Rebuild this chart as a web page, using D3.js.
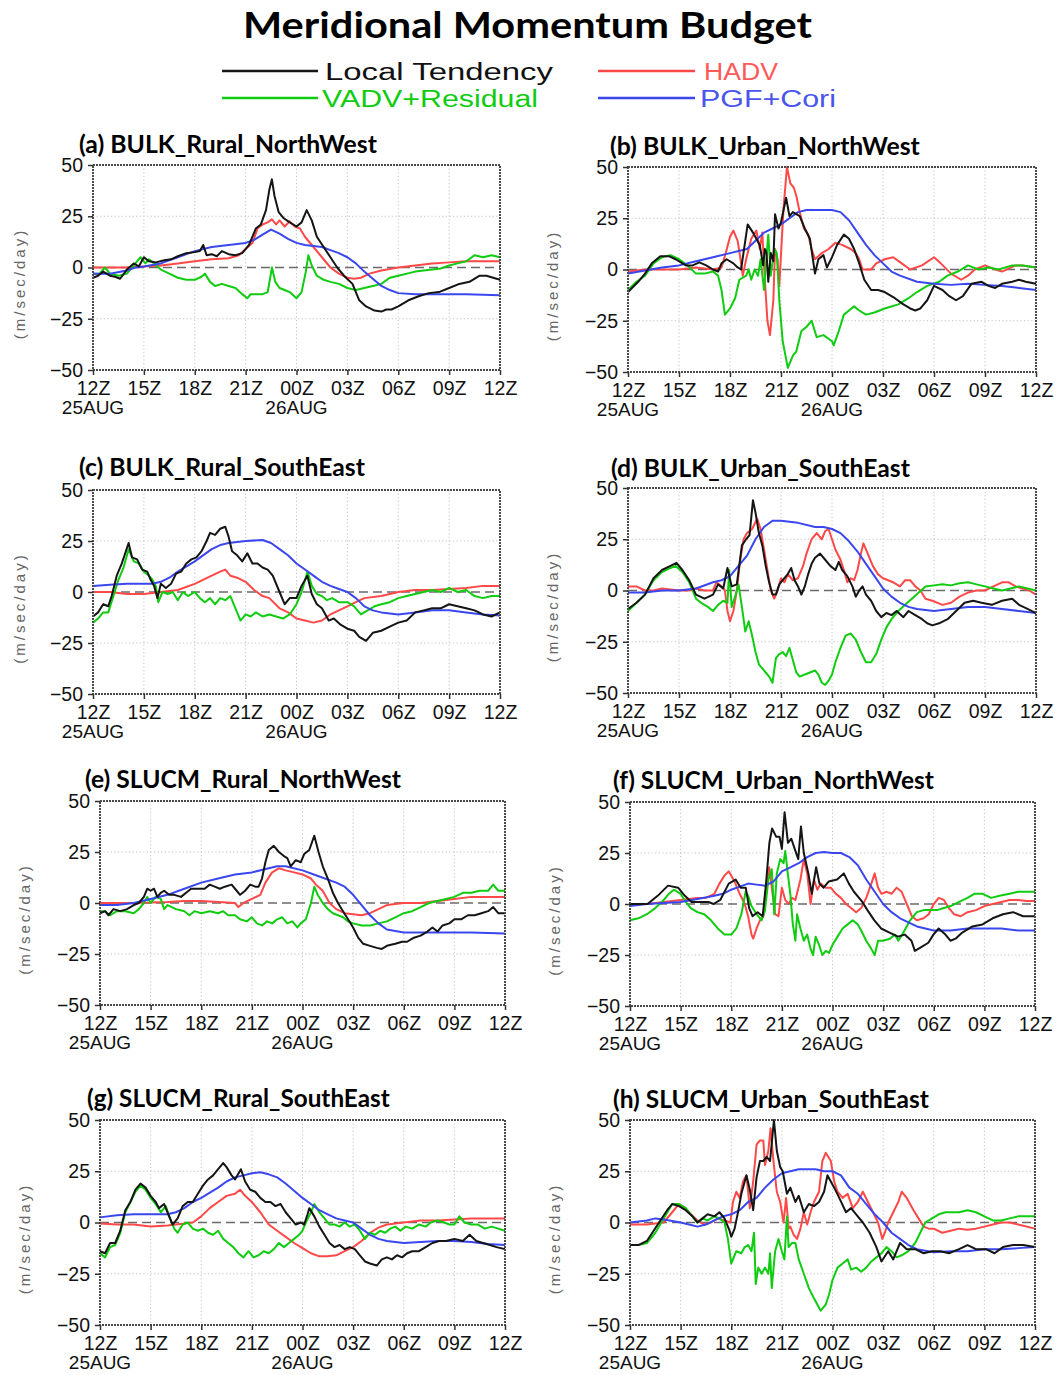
<!DOCTYPE html>
<html>
<head>
<meta charset="utf-8">
<script src="https://cdn.jsdelivr.net/npm/d3@7"></script>
<style>
  body { margin: 0; background: #fff; }
  svg { display: block; }
</style>
</head>
<body>
<svg id="chart" width="1057" height="1375"></svg>
<script>
// ---- axis labels -------------------------------------------------------
const timeTicks = [0, 3, 6, 9, 12, 15, 18, 21, 24];            // hours after 12Z 25AUG
const timeLabels = ["12Z", "15Z", "18Z", "21Z", "00Z", "03Z", "06Z", "09Z", "12Z"];
const dateTicks = [0, 12];
const dateLabels = ["25AUG", "26AUG"];
const yTicks = [50, 25, 0, -25, -50];
const yGrid = [25, -25];
const seriesNames = ["Local Tendency", "HADV", "VADV+Residual", "PGF+Cori"];
const panelTitles = [
  "(a) BULK_Rural_NorthWest", "(b) BULK_Urban_NorthWest",
  "(c) BULK_Rural_SouthEast", "(d) BULK_Urban_SouthEast",
  "(e) SLUCM_Rural_NorthWest", "(f) SLUCM_Urban_NorthWest",
  "(g) SLUCM_Rural_SouthEast", "(h) SLUCM_Urban_SouthEast"
];

// ---- budget terms, [hour, m/sec/day] ----------------------------------
// (a) BULK Rural NorthWest
const localA = [[0,-5],[0.3,-4],[0.6,-2],[1.0,-4],[1.3,-4.5],[1.6,-5.5],[2.0,-1],[2.4,2],[2.7,0.5],[3.0,5],[3.3,3],[3.7,2.5],[4.2,3.5],[4.6,4],[5.0,5.5],[5.5,7],[6.0,7.5],[6.3,8],[6.5,11],[6.7,6],[7.0,6.5],[7.3,5.5],[7.6,8],[8.0,6.5],[8.4,6],[8.8,7],[9.2,11],[9.6,19],[9.9,21],[10.2,28],[10.4,38],[10.55,43],[10.7,35],[10.95,27],[11.25,24],[11.6,22],[12.0,20],[12.3,22],[12.6,28],[12.9,23],[13.2,15],[13.6,10],[14.0,5],[14.4,0],[14.8,-4],[15.3,-8],[15.7,-16],[16.1,-19],[16.6,-21],[17.0,-21.5],[17.3,-20.5],[17.6,-20.5],[18.0,-19],[18.6,-16],[19.2,-14],[19.8,-12.5],[20.4,-12],[21.0,-10],[21.6,-8],[22.2,-7],[22.8,-4],[23.2,-4],[23.6,-5],[24,-6]];
const hadvA = [[0,0],[1,0],[2,0],[3,0.5],[4,1],[5,2],[6,3],[7,4],[8,4.5],[8.6,6],[9.0,9],[9.4,12],[9.7,19],[10.0,21],[10.3,22],[10.55,23.5],[10.8,21],[11.0,23],[11.3,20],[11.6,22.5],[11.9,20],[12.2,19],[12.5,15],[13.0,10],[13.5,5],[14.0,0],[14.5,-3],[15.0,-5],[15.4,-5.5],[15.8,-5],[16.3,-3],[17.0,-1.5],[18.0,0],[19.0,1],[20.0,2],[21.0,2.5],[22.0,3],[23.0,3],[24,3]];
const vadvA = [[0,-3],[0.4,-3],[0.7,0],[1.0,-3],[1.5,-4],[2.0,-3],[2.5,2],[2.8,5],[3.1,2],[3.3,4],[3.6,2],[4.0,-1],[4.5,-3],[5.0,-5],[5.5,-6],[6.0,-6],[6.4,-4.5],[6.6,-3],[6.9,-7],[7.2,-9],[7.6,-8],[8.0,-9],[8.4,-10],[8.8,-13],[9.1,-15],[9.3,-13],[9.6,-13],[10.0,-13],[10.3,-12],[10.45,-5],[10.55,0],[10.75,-7],[11.0,-10],[11.3,-11],[11.6,-12],[12.0,-15],[12.3,-12],[12.55,-2],[12.7,6],[12.9,1],[13.2,-4],[13.6,-6],[14.0,-7],[14.5,-8],[15.0,-10],[15.5,-11],[16.0,-10],[16.5,-9],[17.0,-8],[17.5,-5],[18.0,-4],[19.0,-2],[20.0,-1],[20.5,-0.5],[21.0,1],[21.5,2],[22.0,3],[22.5,6],[23.0,5],[23.5,6],[24,5]];
const pgfA = [[0,-3],[1,-3],[2,-1.5],[2.5,0],[3,0.5],[4,2],[5,5],[6,8],[7,10],[8,11],[9,12],[9.5,13.5],[10,16],[10.5,18.5],[11,16.5],[11.5,14],[12,12],[12.5,11],[13,10.5],[13.5,10],[14,8.5],[14.5,7],[15,5],[15.5,2],[16,-2],[16.5,-5.5],[17,-9],[17.5,-11],[18,-12.5],[19,-13],[20,-13],[22,-13],[24,-13.5]];

// (b) BULK Urban NorthWest
const localB = [[0,-11],[0.6,-6],[1.0,-2],[1.4,3],[1.9,6.5],[2.4,6.5],[2.8,5],[3.4,2],[3.8,2],[4.2,3.5],[4.6,2],[5.0,0],[5.3,-1],[5.5,3],[5.8,5],[6.2,3],[6.45,1],[6.65,0],[7.04,22],[7.35,18],[7.75,12],[7.95,2],[8.05,10],[8.15,8],[8.25,-6],[8.4,8],[8.55,4],[8.65,27],[8.85,20],[9.0,23],[9.3,35],[9.5,26],[9.7,28],[10.1,26],[10.4,20],[10.7,15],[11.0,-2],[11.2,5],[11.5,7],[11.7,1],[12.0,6],[12.3,12],[12.7,17],[13.0,15],[13.3,10],[13.6,3],[13.9,-5],[14.3,-10],[14.7,-10],[15.1,-11],[15.7,-14],[16.2,-17],[16.6,-19],[16.9,-20],[17.2,-19],[17.6,-15],[18.0,-8],[18.5,-10],[18.9,-13],[19.3,-15],[19.7,-13],[20.2,-7],[20.8,-6],[21.2,-8],[21.6,-9],[22.0,-7],[22.6,-6],[23.0,-5],[23.4,-6],[24,-7]];
const hadvB = [[0,-1],[1,0],[2,0],[3,0],[4,1],[5,0],[5.5,1],[5.75,8],[6.0,16],[6.2,19],[6.45,14],[6.6,6],[6.75,-3],[6.95,5],[7.25,15],[7.55,19],[7.75,10],[7.9,18],[8.05,-5],[8.2,-25],[8.35,-32],[8.55,-15],[8.65,10],[8.8,5],[8.9,-8],[9.15,30],[9.35,50],[9.55,42],[9.75,40],[9.9,36],[10.1,28],[10.35,20],[10.6,17],[10.8,10],[11.0,5],[11.4,8],[11.8,10],[12.2,13],[12.6,12],[13.1,10],[13.4,8],[13.6,5],[13.8,0],[14.3,0],[14.6,3],[15.1,5],[15.6,6],[16.1,3],[16.6,0],[17.3,2],[18.0,6],[18.4,3],[19.0,-2],[19.6,-5],[20.0,-3],[20.4,0],[21.0,2],[21.6,0],[22.0,-1],[22.8,2],[23.2,2],[24,1]];
const vadvB = [[0,-10],[0.5,-6],[1.0,-3],[1.5,3],[2.0,6],[2.5,7],[3.0,5],[3.5,2],[4.0,-2],[4.5,-2],[5.0,-1],[5.3,-3],[5.5,-10],[5.7,-22],[6.0,-19],[6.3,-14],[6.55,-5],[6.95,-3],[7.1,0],[7.25,-5],[7.45,0],[7.65,-3],[7.8,5],[8.0,-10],[8.25,17],[8.4,-3],[8.6,10],[8.75,8],[8.9,-15],[9.1,-35],[9.4,-48],[9.7,-42],[9.9,-40],[10.2,-30],[10.5,-28],[10.8,-25],[11.1,-33],[11.5,-32],[12.0,-35],[12.1,-37],[12.4,-30],[12.7,-22],[13.0,-20],[13.3,-18],[13.6,-20],[14.0,-22],[14.5,-21],[15.1,-19],[15.9,-17],[16.5,-14],[17.0,-11],[17.6,-8],[18.3,-6],[18.8,-3],[19.4,-1],[20.0,2],[20.6,0],[21.2,1],[21.8,0],[22.6,2],[23.2,2],[24,1]];
const pgfB = [[0,-2],[1,-0.5],[2,1],[3,2],[4,4],[5,6],[6,8],[7,10],[7.5,14],[8,18],[8.5,20],[9,22],[9.5,25],[10,28],[10.5,29],[11,29],[12,29],[12.5,28],[13,24],[13.5,18],[14,12],[14.5,7],[15,3],[15.5,-1],[16,-3],[17,-6],[18,-7],[19,-7.5],[20,-7],[21,-7.5],[22,-8],[23,-9],[24,-10]];

// (c) BULK Rural SouthEast
const localC = [[0,-12],[0.3,-10],[0.6,-6],[0.9,-7],[1.1,-2],[1.4,8],[1.7,14],[2.1,24],[2.3,17],[2.6,16],[2.9,11],[3.2,10],[3.4,6],[3.6,3],[3.8,-3],[4.0,4],[4.3,2],[4.6,4],[4.9,9],[5.2,10],[5.5,14],[5.8,16],[6.1,17],[6.4,20],[6.7,25],[6.9,29],[7.2,28],[7.5,31],[7.8,32],[8.0,27],[8.2,20],[8.5,18],[8.8,15],[9.1,19],[9.4,14],[9.7,14],[10.0,12],[10.3,11],[10.6,8],[11.0,0],[11.3,-6],[11.6,-3],[12.0,-3],[12.3,3],[12.64,8],[12.9,-1],[13.2,-6],[13.5,-8],[13.9,-14],[14.2,-13],[14.6,-16],[15.0,-18],[15.4,-19],[15.7,-22],[16.1,-24],[16.5,-20],[17.0,-19],[17.5,-17],[18.0,-15],[18.5,-14],[19.0,-10],[19.5,-9],[20.0,-8],[20.5,-8],[21.0,-6],[21.5,-7],[22.0,-8],[22.5,-9],[23.0,-11],[23.5,-12],[24,-10]];
const hadvC = [[0,0],[1,0],[2,-1],[3,-1],[4,0],[5,1],[6,4],[7,8],[7.5,10],[7.8,11],[8.1,8],[8.5,7],[9,5],[9.5,1],[10,-2],[10.4,-3],[11,-8],[11.5,-10],[12,-13],[12.5,-14],[13,-15],[13.5,-14],[14,-11],[14.5,-9],[15,-7],[15.5,-5],[16,-3],[17,-2],[18,0],[19,1],[20,1],[21,1.5],[22,2],[23,3],[24,3]];
const vadvC = [[0,-15],[0.3,-13],[0.6,-10],[0.9,-10],[1.2,-2],[1.5,6],[1.8,12],[2.1,21],[2.4,15],[2.7,14],[3.0,10],[3.3,8],[3.5,6],[3.7,3],[3.85,-5],[4.1,0],[4.4,-1],[4.7,0],[5.0,-4],[5.3,0],[5.6,-2],[6.0,0],[6.3,-3],[6.6,-5],[6.9,-3],[7.2,-6],[7.5,-3],[7.8,-4],[8.1,-2],[8.4,-8],[8.7,-14],[9.0,-11],[9.3,-12],[9.6,-10],[10.0,-12],[10.4,-11],[10.8,-12],[11.2,-13],[11.6,-11],[12.0,-6],[12.3,0],[12.65,10],[12.9,3],[13.2,-1],[13.5,-2],[13.8,-4],[14.1,-3],[14.5,-5],[15.0,-5],[15.4,-7],[15.8,-11],[16.2,-9],[16.6,-7],[17.0,-6],[17.5,-5],[18.0,-3],[18.5,-2],[19.0,-1],[19.5,0],[20.0,1],[20.5,0],[21.0,2],[21.5,0],[22.0,1],[22.5,-2],[23.0,-3],[23.5,-2],[24,-2]];
const pgfC = [[0,3],[1,3.5],[2,4],[3,4],[3.5,4],[4,5],[4.5,7],[5,10],[6,15],[7,21],[7.5,23],[8,24],[9,25],[10,25.5],[10.5,24],[11,21],[11.5,18],[12,14],[12.5,11],[13,8],[13.5,5],[14,3],[14.5,1.5],[15,0],[15.5,-3],[16,-7],[16.5,-9],[17,-10],[18,-11],[19,-10],[20,-9],[21,-9],[22,-10],[23,-11],[24,-11.5]];

// (d) BULK Urban SouthEast
const localD = [[0,-9],[0.5,-6],[1,-2],[1.5,6],[2,10],[2.5,12],[2.85,13.5],[3.2,10],[3.6,5],[4,-2],[4.5,-4],[5,-2],[5.3,3],[5.6,1],[5.85,11],[6.1,2],[6.4,3],[6.7,22],[6.95,25],[7.15,27],[7.35,44],[7.5,38],[7.7,28],[7.9,22],[8.1,12],[8.3,4],[8.5,-2],[8.7,-2],[8.9,3],[9.2,6],[9.4,8],[9.6,11],[9.8,5],[10.0,2],[10.2,-2],[10.4,2],[10.6,8],[10.8,13],[11.0,16],[11.3,18],[11.6,15],[11.9,12],[12.2,10],[12.4,14],[12.6,10],[12.9,7],[13.2,2],[13.4,-3],[13.6,0],[13.8,2],[14.0,-2],[14.3,-5],[14.6,-10],[14.9,-13],[15.2,-11],[15.5,-12],[15.8,-10],[16.2,-13],[16.5,-10],[16.9,-12],[17.3,-14],[17.6,-16],[17.9,-17],[18.3,-16],[18.8,-14],[19.3,-10],[19.8,-6],[20.3,-5],[20.8,-6],[21.4,-7],[22.0,-5],[22.6,-4],[23.0,-7],[23.5,-9],[24,-11]];
const hadvD = [[0,2],[0.5,2],[1,0],[1.5,0],[2,1],[3,0],[3.5,0],[4,1],[4.5,0],[5,0],[5.2,4],[5.5,2],[5.7,0],[5.85,-10],[6.0,-15],[6.2,-10],[6.4,0],[6.6,15],[6.8,25],[7.0,28],[7.3,30],[7.6,35],[7.8,30],[8.0,20],[8.2,10],[8.4,0],[8.6,-4],[8.8,0],[9.0,6],[9.2,4],[9.4,8],[9.7,5],[10.0,6],[10.3,12],[10.5,18],[10.8,25],[11.1,28],[11.4,25],[11.6,29],[11.8,30],[12.0,25],[12.2,20],[12.5,15],[12.7,10],[12.9,4],[13.1,6],[13.3,5],[13.5,10],[13.7,18],[13.85,23],[14.1,18],[14.4,12],[14.7,8],[15.0,6],[15.3,5],[15.6,4],[16.0,2],[16.3,5],[16.6,5],[16.9,2],[17.2,0],[17.5,-4],[17.9,-5],[18.5,-7],[19,-6],[19.5,-3],[20,-1],[20.5,0],[21,0],[21.5,2],[22,4],[22.4,4],[22.8,2],[23.2,1],[23.6,0],[24,-2]];
const vadvD = [[0,-10],[0.5,-6],[1,-2],[1.5,5],[2,9],[2.5,11],[2.8,12],[3.2,9],[3.6,4],[4.0,-4],[4.3,-6],[4.7,-8],[5.0,-10],[5.3,-7],[5.6,-5],[5.85,-6],[5.95,10],[6.1,-8],[6.3,-3],[6.5,3],[6.7,-8],[6.9,-20],[7.1,-15],[7.3,-22],[7.5,-30],[7.7,-36],[7.9,-38],[8.1,-40],[8.3,-42],[8.5,-45],[8.7,-33],[8.9,-31],[9.1,-30],[9.3,-32],[9.5,-28],[9.7,-34],[9.9,-40],[10.1,-42],[10.4,-41],[10.7,-40],[11.0,-39],[11.2,-41],[11.4,-45],[11.6,-46],[11.8,-44],[12.0,-41],[12.2,-35],[12.5,-28],[12.8,-22],[13.1,-21],[13.4,-24],[13.7,-30],[14.0,-35],[14.3,-35],[14.6,-31],[14.9,-24],[15.2,-18],[15.5,-14],[15.9,-10],[16.3,-7],[16.7,-4],[17.1,-1],[17.5,2],[18,2.5],[18.5,3],[19,2.5],[19.5,3.5],[20,4],[20.5,3],[21,2],[21.5,1],[22,0],[22.5,1],[23,2],[23.5,1],[24,0]];
const pgfD = [[0,-1],[1,-1],[2,0],[3,0],[4,1],[5,4],[5.5,5],[6,7],[6.5,12],[7,17],[7.5,25],[8,31],[8.5,34],[9,34],[10,33],[11,31],[11.5,31],[12,30],[12.5,28],[13,24],[13.5,19],[14,13],[14.5,7],[15,1],[15.5,-3],[16,-6],[16.5,-8],[17,-9],[18,-10],[19,-9],[20,-8],[21,-8],[22,-9],[23,-10],[24,-11]];

// (e) SLUCM Rural NorthWest
const localE = [[0,-5],[0.3,-4],[0.5,-6],[0.8,-3],[1.2,-4],[1.6,-3],[2.0,-1],[2.3,0],[2.6,3],[2.8,7],[3.0,6],[3.2,7],[3.4,3],[3.6,5],[3.8,6],[4.1,4],[4.4,4],[4.8,3],[5.1,5],[5.4,7],[5.8,7],[6.2,7],[6.5,9],[6.8,8],[7.1,7],[7.4,8],[7.8,9],[8.1,6],[8.3,4],[8.6,6],[8.9,9],[9.2,8],[9.4,8],[9.6,12],[9.8,20],[10.0,26],[10.3,28],[10.6,25],[10.9,23],[11.1,22],[11.3,18],[11.6,21],[11.9,20],[12.1,24],[12.4,26],[12.7,33],[12.95,25],[13.2,18],[13.5,12],[13.8,5],[14.1,0],[14.4,-4],[14.7,-8],[15.0,-12],[15.3,-17],[15.6,-20],[16.0,-21],[16.4,-22],[16.7,-22.5],[17.0,-21],[17.5,-20],[17.9,-19],[18.2,-19],[18.6,-17],[19.0,-16],[19.4,-14],[19.7,-12],[20.0,-14],[20.3,-11],[20.7,-10],[21.0,-8],[21.4,-8],[21.8,-6],[22.2,-6],[22.6,-5],[23.0,-4],[23.3,-2],[23.6,-5],[24,-5]];
const hadvE = [[0,0],[2,0],[4,0.5],[5,1],[6,1],[7,0.5],[8,0],[8.2,-2],[8.5,0],[9,2],[9.5,4],[9.8,10],[10.2,15],[10.6,17],[11.0,16],[11.5,15],[12.0,14],[12.5,12],[12.8,9],[13.2,6],[13.6,0],[14,-3],[14.5,-5],[15,-5.5],[15.5,-6],[16,-5],[16.5,-3],[17,-1],[18,0],[19,0],[20,1],[21,2],[22,3],[23,3],[24,3]];
const vadvE = [[0,-4],[0.3,-4],[0.6,-6],[1,-4],[1.5,-4],[2,-5],[2.3,-3],[2.6,0],[2.8,3],[3.0,0],[3.3,3],[3.6,2],[3.8,-3],[4.0,-1],[4.5,-3],[5,-4],[5.3,-6],[5.6,-4],[6,-5],[6.5,-4],[7,-5],[7.3,-4],[7.6,-6],[8,-6],[8.3,-8],[8.7,-9],[9.0,-7],[9.3,-10],[9.6,-11],[9.9,-9],[10.2,-10],[10.5,-8],[10.8,-7],[11.1,-10],[11.4,-9],[11.7,-12],[11.9,-10],[12.2,-8],[12.5,0],[12.7,8],[12.9,4],[13.2,0],[13.5,-3],[13.8,-5],[14.1,-6],[14.4,-7],[14.7,-9],[15.0,-10],[15.5,-11],[16,-11],[16.5,-10],[17,-9],[17.5,-7],[18,-5],[18.5,-4],[19,-2],[19.5,0],[20,1],[20.5,2],[21,3],[21.5,5],[22,5],[22.5,6],[23,6],[23.3,9],[23.6,6],[24,6]];
const pgfE = [[0,-1],[1,-1],[2,0],[3,2],[4,4],[5,7],[6,10],[7,12],[8,14],[9,15],[10,17],[10.5,18],[11,18],[12,16],[13,13],[14,10],[14.5,8],[15,4],[15.5,-1],[16,-6],[16.5,-10],[17,-13],[18,-14.5],[19,-14.5],[20,-14.5],[21,-14.5],[22,-14.5],[24,-15]];

// (f) SLUCM Urban NorthWest
const localF = [[0,0],[1.04,0],[1.64,4],[2.25,9],[2.85,8],[3.25,4],[3.65,1],[4.25,1],[4.65,1],[4.95,0],[5.35,2],[5.85,10],[6.26,12],[6.56,8],[6.86,8],[7.06,-2],[7.26,-6],[7.56,-4],[7.86,-6],[8.06,10],[8.26,30],[8.42,37],[8.66,33],[8.86,33],[9.0,27],[9.16,45],[9.36,30],[9.56,32],[9.76,27],[9.97,22],[10.13,38],[10.3,25],[10.57,15],[10.77,5],[11.03,18],[11.23,10],[11.47,8],[11.77,11],[12.27,12],[12.67,15],[12.97,10],[13.27,6],[13.77,1],[14.07,-3],[14.48,-8],[14.88,-12],[15.38,-14],[15.88,-16],[16.28,-15],[16.68,-18],[16.88,-23],[17.28,-21],[17.68,-19],[17.98,-15],[18.29,-12],[18.69,-15],[18.99,-18],[19.29,-17],[19.69,-14],[20.29,-11],[20.89,-10],[21.49,-7],[22.1,-5],[22.7,-4],[23.3,-6],[24,-6]];
const hadvF = [[0,0],[1,0],[2,1],[3,2],[4,3],[4.5,3],[5,5],[5.3,10],[5.6,14],[5.85,16],[6.2,11],[6.5,5],[6.8,0],[7.0,-6],[7.2,-15],[7.3,-17],[7.5,-12],[7.7,-8],[7.9,-6],[8.1,10],[8.25,18],[8.4,8],[8.6,-5],[8.8,-6],[9.0,8],[9.2,2],[9.4,0],[9.6,3],[9.8,2],[10.1,12],[10.3,22],[10.5,15],[10.7,0],[10.9,12],[11.1,7],[11.3,10],[11.6,8],[11.9,8],[12.2,5],[12.5,3],[12.8,0],[13.1,-2],[13.4,-4],[13.7,-2],[14.0,3],[14.3,10],[14.5,15],[14.7,8],[14.9,5],[15.2,6],[15.5,5],[15.8,8],[16.1,6],[16.4,0],[16.7,-6],[17.0,-8],[17.4,-7],[17.7,-5],[18.0,0],[18.3,3],[18.6,2],[18.9,-2],[19.2,-5],[19.6,-6],[20,-4],[20.5,-3],[21,-1],[21.5,0],[22,1],[22.5,2],[23,2],[23.5,1.5],[24,1.5]];
const vadvF = [[0,-8],[0.5,-7],[1,-5],[1.5,-2],[2,2],[2.3,5],[2.6,7],[3.0,5],[3.3,1],[3.6,-2],[4.0,-4],[4.4,-5],[4.8,-8],[5.2,-12],[5.6,-15],[6.0,-15],[6.3,-12],[6.6,-5],[6.85,6],[7.0,4],[7.2,-1],[7.5,-5],[7.8,-8],[8.0,-3],[8.2,12],[8.4,17],[8.55,-5],[8.7,15],[8.9,22],[9.1,20],[9.2,26],[9.35,15],[9.5,5],[9.65,-10],[9.8,-18],[9.9,-5],[10.1,-12],[10.3,-18],[10.5,-15],[10.7,-22],[10.85,-25],[11.0,-16],[11.2,-20],[11.4,-25],[11.6,-23],[11.8,-24],[12.0,-20],[12.3,-16],[12.6,-12],[12.9,-10],[13.2,-8],[13.5,-10],[13.7,-13],[14.0,-18],[14.3,-22],[14.5,-25],[14.7,-18],[15.0,-18],[15.4,-17],[15.7,-15],[15.9,-18],[16.2,-14],[16.6,-8],[17.0,-4],[17.4,-3],[17.8,-3],[18.2,-3],[18.6,-2],[19.0,-1],[19.5,1],[20.0,3],[20.4,5],[20.9,5],[21.4,3],[21.9,4],[22.5,5],[23,6],[23.5,6],[24,6]];
const pgfF = [[0,-1],[1,0],[2,0.5],[3,1],[4,2.5],[5,4],[5.5,5],[6,7],[6.5,8.5],[7,10],[7.5,9.5],[8,9],[8.5,11],[9,16],[9.5,18],[10,20],[10.5,23],[11,25],[11.5,25.5],[12,25],[12.5,25],[13,23],[13.5,19],[14,12],[14.5,6],[15,0],[15.5,-4],[16,-7],[16.5,-9],[17,-11],[17.5,-12],[18,-13],[19,-13],[20,-12],[21,-12],[22,-12],[23,-13],[24,-13]];

// (g) SLUCM Rural SouthEast
const localG = [[0,-14],[0.3,-15],[0.6,-10],[0.9,-10],[1.2,-4],[1.5,6],[1.8,10],[2.1,16],[2.4,19],[2.7,17],[3.0,13],[3.3,10],[3.5,7],[3.8,9],[4.0,5],[4.3,-1],[4.6,2],[4.9,8],[5.2,10],[5.5,10],[5.8,14],[6.1,18],[6.4,21],[6.7,23],[7.0,26],[7.3,29],[7.5,27],[7.8,23],[8.0,21],[8.35,26],[8.6,20],[8.9,16],[9.2,15],[9.5,12],[9.8,10],[10.1,10],[10.4,8],[10.7,9],[11.0,5],[11.3,2],[11.6,-1],[11.9,0],[12.1,-1],[12.3,4],[12.4,7],[12.7,3],[13.0,-2],[13.3,-6],[13.6,-10],[13.9,-12],[14.2,-11],[14.5,-13],[14.8,-12],[15.1,-13],[15.4,-16],[15.7,-19],[16.0,-20],[16.4,-21],[16.7,-18],[17.0,-17],[17.3,-18],[17.6,-16],[17.9,-17],[18.2,-15],[18.5,-14],[18.9,-14],[19.3,-12],[19.7,-10],[20.1,-9],[20.5,-9],[21.0,-8],[21.5,-9],[21.9,-6],[22.3,-9],[22.7,-10],[23.1,-11],[23.5,-12],[24,-13]];
const hadvG = [[0,-0.5],[1,-1],[2,-1],[3,-2],[4,-1.5],[5,-0.5],[5.5,0],[6,3],[6.5,7],[7,10],[7.5,13],[8,14],[8.3,16],[8.6,13],[9,10],[9.5,5],[10,-1],[10.5,-4],[11,-7],[11.5,-10],[12,-12.5],[12.5,-15],[13,-16.5],[13.5,-16.5],[14,-16],[14.5,-14],[15,-12],[15.5,-9],[16,-5],[16.5,-2.5],[17,-1],[18,0],[19,1],[20,1],[21,1.5],[22,2],[23,2],[24,2]];
const vadvG = [[0,-15],[0.3,-17],[0.6,-12],[0.9,-11],[1.2,-5],[1.5,5],[1.8,10],[2.1,15],[2.4,18],[2.7,16],[3.0,12],[3.3,9],[3.6,5],[3.9,8],[4.1,3],[4.4,-3],[4.6,-5],[4.9,-1],[5.2,0],[5.5,-3],[5.8,-4],[6.1,-3],[6.4,-5],[6.7,-6],[7.0,-4],[7.3,-8],[7.6,-10],[7.9,-12],[8.2,-15],[8.5,-17],[8.8,-14],[9.1,-17],[9.4,-16],[9.7,-14],[10.0,-15],[10.3,-13],[10.6,-10],[10.9,-12],[11.2,-10],[11.5,-8],[11.8,-6],[12.0,-4],[12.2,0],[12.5,5],[12.7,9],[13.0,5],[13.3,2],[13.6,-1],[13.9,-1],[14.2,-2],[14.5,0],[14.8,-2],[15.1,-1],[15.4,-4],[15.7,-8],[16.0,-5],[16.3,-6],[16.6,-4],[16.9,-5],[17.2,-3],[17.5,-2],[17.8,-4],[18.1,-2],[18.5,-3],[18.9,-1],[19.3,-2],[19.6,0],[20.0,1],[20.4,0],[20.7,-1],[21.0,-1],[21.3,3],[21.6,0],[22.0,-1],[22.4,-1],[22.8,-3],[23.2,-2],[23.6,-3],[24,-4]];
const pgfG = [[0,2.5],[1,3.5],[2,4],[3,4],[4,4],[4.5,5],[5,7],[5.5,10],[6,12],[7,17],[7.5,20],[8,22],[8.5,23],[9,24],[9.5,24.5],[10,23.5],[10.5,22],[11,19],[11.5,15.5],[12,12],[12.5,9],[13,6],[13.5,4],[14,2],[14.5,1],[15,0],[15.5,-3],[16,-6],[16.5,-8],[17,-9],[18,-10],[19,-9.5],[20,-9],[21,-9],[22,-9.5],[23,-10.5],[24,-11]];

// (h) SLUCM Urban SouthEast
const localH = [[0,-11],[0.5,-11],[1.0,-9],[1.4,-4],[1.8,1],[2.2,6],[2.5,9],[2.9,8],[3.3,6],[3.7,3],[4.0,0],[4.3,2],[4.6,4],[5.0,3],[5.3,5],[5.6,2],[5.9,-4],[6.0,-7],[6.2,-3],[6.4,5],[6.6,14],[6.9,23],[7.1,16],[7.3,6],[7.5,22],[7.7,30],[7.9,30],[8.1,32],[8.3,30],[8.53,50],[8.7,35],[8.9,27],[9.05,25],[9.3,14],[9.5,17],[9.8,10],[10.0,13],[10.3,5],[10.6,9],[10.9,8],[11.2,10],[11.5,15],[11.7,23],[12.1,17],[12.4,12],[12.8,5],[13.1,7],[13.4,4],[13.8,0],[14.2,-5],[14.6,-12],[14.9,-19],[15.3,-14],[15.6,-18],[16.0,-10],[16.4,-13],[16.9,-13],[17.4,-15],[17.9,-14],[18.4,-14],[18.9,-15],[19.5,-13],[20.0,-11],[20.5,-13],[21.1,-13],[21.6,-15],[22.1,-12],[22.7,-11],[23.3,-11],[24,-12]];
const hadvH = [[0,-1],[1,-1],[2,0],[2.5,5],[2.9,9],[3.3,7],[3.6,4],[4,1],[4.4,-1],[4.8,0],[5.2,2],[5.6,1],[5.95,0],[6.1,10],[6.3,15],[6.5,12],[6.7,20],[6.9,23],[7.1,7],[7.3,20],[7.5,38],[7.7,40],[7.9,40],[8.0,28],[8.2,35],[8.33,46],[8.5,30],[8.7,15],[8.9,10],[9.1,0],[9.25,12],[9.4,-3],[9.5,-2],[9.7,-6],[9.9,-8],[10.1,-3],[10.3,5],[10.5,-1],[10.7,5],[10.9,10],[11.2,15],[11.4,30],[11.6,34],[11.9,30],[12.1,20],[12.3,15],[12.6,12],[12.9,14],[13.2,7],[13.5,10],[13.8,15],[14.1,10],[14.4,5],[14.7,0],[14.95,-8],[15.1,-5],[15.3,0],[15.6,5],[15.9,10],[16.1,15],[16.4,12],[16.8,6],[17.1,2],[17.4,-2],[17.7,-3],[18,-3],[18.5,-5],[19,-4],[19.5,-3],[20,-3.5],[20.5,-3],[21,-2],[21.5,-1],[22,0],[22.5,0],[23,-1],[24,-3]];
const vadvH = [[0,-11],[0.5,-11],[1,-10],[1.5,-5],[2,2],[2.5,9],[2.9,9],[3.3,7],[3.6,4],[4.0,0],[4.3,2],[4.6,1],[5,3],[5.3,2],[5.6,0],[5.8,-8],[6.0,-20],[6.3,-14],[6.6,-15],[6.8,-12],[7.0,-11],[7.2,-14],[7.35,-5],[7.45,-30],[7.6,-22],[7.8,-25],[8.0,-22],[8.2,-25],[8.3,-15],[8.4,-32],[8.6,-14],[8.8,-8],[9.0,-14],[9.15,-18],[9.3,3],[9.4,-12],[9.6,-10],[9.8,-10],[10.0,-18],[10.3,-25],[10.6,-32],[10.9,-37],[11.1,-40],[11.3,-43],[11.6,-40],[11.8,-35],[12.0,-28],[12.3,-22],[12.6,-20],[12.9,-18],[13.1,-23],[13.4,-22],[13.7,-24],[14.0,-22],[14.3,-19],[14.6,-17],[14.9,-15],[15.2,-12],[15.5,-14],[15.8,-17],[16.1,-16],[16.5,-14],[16.9,-10],[17.2,-5],[17.5,0],[17.9,2],[18.3,4],[18.7,5],[19.1,5],[19.5,5],[20,6],[20.5,5],[21,3],[21.5,1],[22,1],[22.5,2],[23,3],[23.5,3],[24,3]];
const pgfH = [[0,0],[1,1],[1.5,2],[2,1.5],[3,0],[3.5,-1],[4,-2],[4.5,-1],[5,1],[5.5,3],[6,4],[6.5,6],[7,10],[7.5,12],[8,17],[8.5,21],[9,24],[9.5,25],[10,26],[10.5,26],[11,26],[11.5,25],[12,25],[12.5,23],[13,17],[13.5,14],[14,9],[14.5,4],[15,0],[15.5,-5],[16,-8],[16.5,-11],[17,-13],[18,-14.5],[19,-14],[20,-14],[21,-13],[22,-13],[23,-12.5],[24,-12]];

// ---- drawing -----------------------------------------------------------
const colors = { local: "#151515", hadv: "#ff4848", vadv: "#10cc10", pgf: "#3a46ee" };

const panels = [
  { title: panelTitles[0], box: [93, 165, 407, 205], head: [79, 153, 298], ylab: 20,
    local: localA, hadv: hadvA, vadv: vadvA, pgf: pgfA },
  { title: panelTitles[1], box: [628, 167, 408, 205], head: [610, 155, 310], ylab: 553,
    local: localB, hadv: hadvB, vadv: vadvB, pgf: pgfB },
  { title: panelTitles[2], box: [93, 490, 407, 204], head: [79, 476, 286], ylab: 20,
    local: localC, hadv: hadvC, vadv: vadvC, pgf: pgfC },
  { title: panelTitles[3], box: [628, 488, 408, 205], head: [611, 477, 299], ylab: 553,
    local: localD, hadv: hadvD, vadv: vadvD, pgf: pgfD },
  { title: panelTitles[4], box: [100, 801, 405, 204], head: [85, 788, 316], ylab: 25,
    local: localE, hadv: hadvE, vadv: vadvE, pgf: pgfE },
  { title: panelTitles[5], box: [630, 802, 405, 204], head: [613, 789, 321], ylab: 555,
    local: localF, hadv: hadvF, vadv: vadvF, pgf: pgfF },
  { title: panelTitles[6], box: [100, 1120, 405, 205], head: [87, 1107, 303], ylab: 25,
    local: localG, hadv: hadvG, vadv: vadvG, pgf: pgfG },
  { title: panelTitles[7], box: [630, 1120, 405, 205], head: [613, 1108, 316], ylab: 555,
    local: localH, hadv: hadvH, vadv: vadvH, pgf: pgfH }
];

const svg = d3.select("#chart");
const titleFont = "Lato, 'Open Sans', sans-serif";
const axisFont = "'Liberation Sans', Arial, sans-serif";

// scale a text's font size so that it spans the given width
function fitFont(sel, base, width) {
  sel.attr("font-size", base);
  const w = sel.node().getComputedTextLength();
  sel.attr("font-size", base * width / w);
}

// main heading
svg.append("text")
  .attr("x", 243).attr("y", 38)
  .attr("font-family", titleFont).attr("font-weight", 700)
  .attr("font-size", 36)
  .attr("textLength", 569).attr("lengthAdjust", "spacingAndGlyphs")
  .attr("fill", "#000")
  .text("Meridional Momentum Budget");

// legend
const legendItems = [
  { name: seriesNames[0], color: colors.local, x1: 222, x2: 318, y: 71, tx: 325, ty: 80, tw: 228, textColor: "#111" },
  { name: seriesNames[1], color: colors.hadv,  x1: 598, x2: 695, y: 71, tx: 704, ty: 80, tw: 74,  textColor: "#ff5a5a" },
  { name: seriesNames[2], color: colors.vadv,  x1: 222, x2: 318, y: 98, tx: 322, ty: 107, tw: 216, textColor: "#10cc10" },
  { name: seriesNames[3], color: colors.pgf,   x1: 598, x2: 695, y: 98, tx: 700, ty: 107, tw: 136, textColor: "#4a55ee" }
];
const legend = svg.append("g");
legendItems.forEach(d => {
  legend.append("line")
    .attr("x1", d.x1).attr("x2", d.x2).attr("y1", d.y).attr("y2", d.y)
    .attr("stroke", d.color).attr("stroke-width", 2.5);
  legend.append("text")
    .attr("x", d.tx).attr("y", d.ty)
    .attr("font-family", axisFont).attr("font-size", 23)
    .attr("textLength", d.tw).attr("lengthAdjust", "spacingAndGlyphs")
    .attr("fill", d.textColor)
    .text(d.name);
});

panels.forEach(p => {
  const [left, top, w, h] = p.box;
  const x = d3.scaleLinear().domain([0, 24]).range([left, left + w]);
  const y = d3.scaleLinear().domain([-50, 50]).range([top + h, top]);
  const g = svg.append("g");

  // panel heading
  fitFont(g.append("text")
    .attr("x", p.head[0]).attr("y", p.head[1])
    .attr("font-family", titleFont).attr("font-weight", 700)
    .attr("fill", "#000")
    .text(p.title), 21, p.head[2]);

  // dotted grid
  const grid = g.append("g").attr("stroke", "#c4c4c4").attr("stroke-width", 1)
    .attr("stroke-dasharray", "1.2,2.4");
  timeTicks.slice(1, -1).forEach(t => {
    grid.append("line").attr("x1", x(t)).attr("x2", x(t))
      .attr("y1", top).attr("y2", top + h);
  });
  yGrid.forEach(v => {
    grid.append("line").attr("x1", left).attr("x2", left + w)
      .attr("y1", y(v)).attr("y2", y(v));
  });

  // zero reference
  g.append("line")
    .attr("x1", left).attr("x2", left + w).attr("y1", y(0)).attr("y2", y(0))
    .attr("stroke", "#6a6a6a").attr("stroke-width", 1.5)
    .attr("stroke-dasharray", "9,5");

  // budget terms
  const line = d3.line().x(d => x(d[0])).y(d => y(d[1]));
  [["hadv", colors.hadv], ["vadv", colors.vadv], ["pgf", colors.pgf], ["local", colors.local]]
    .forEach(([key, color]) => {
      g.append("path")
        .datum(p[key])
        .attr("d", line)
        .attr("fill", "none")
        .attr("stroke", color)
        .attr("stroke-width", 2)
        .attr("stroke-linejoin", "round");
    });

  // frame
  g.append("rect")
    .attr("x", left).attr("y", top).attr("width", w).attr("height", h)
    .attr("fill", "none").attr("stroke", "#4a4a4a").attr("stroke-width", 2)
    .attr("stroke-dasharray", "2,1");

  // axes
  const xAxis = d3.axisBottom(x).tickValues(timeTicks)
    .tickFormat((d, i) => timeLabels[i]).tickSize(5).tickPadding(4);
  const gx = g.append("g").attr("transform", `translate(0,${top + h})`).call(xAxis);
  gx.select(".domain").remove();
  gx.selectAll(".tick line").attr("stroke", "#333").attr("stroke-width", 1.5);
  gx.selectAll(".tick text")
    .attr("font-family", axisFont).attr("font-size", 19.5).attr("fill", "#111")
    .attr("dy", null).attr("y", 25);

  const yAxis = d3.axisLeft(y).tickValues(yTicks)
    .tickFormat(d => d < 0 ? "\u2212" + Math.abs(d) : String(d)).tickSize(5).tickPadding(5);
  const gy = g.append("g").attr("transform", `translate(${left},0)`).call(yAxis);
  gy.select(".domain").remove();
  gy.selectAll(".tick line").attr("stroke", "#333").attr("stroke-width", 1.5);
  gy.selectAll(".tick text")
    .attr("font-family", axisFont).attr("font-size", 19.5).attr("fill", "#111");

  // dates under the first and middle ticks
  dateTicks.forEach((t, i) => {
    g.append("text")
      .attr("x", x(t)).attr("y", top + h + 44)
      .attr("text-anchor", "middle")
      .attr("font-family", axisFont).attr("font-size", 19).attr("fill", "#111")
      .text(dateLabels[i]);
  });

  // unit label
  g.append("text")
    .attr("transform", `translate(${p.ylab},${top + h / 2 + 16}) rotate(-90)`)
    .attr("text-anchor", "middle").attr("dy", "0.35em")
    .attr("font-family", axisFont).attr("font-size", 15)
    .attr("letter-spacing", 3).attr("fill", "#666")
    .text("(m/sec/day)");
});
</script>
</body>
</html>
